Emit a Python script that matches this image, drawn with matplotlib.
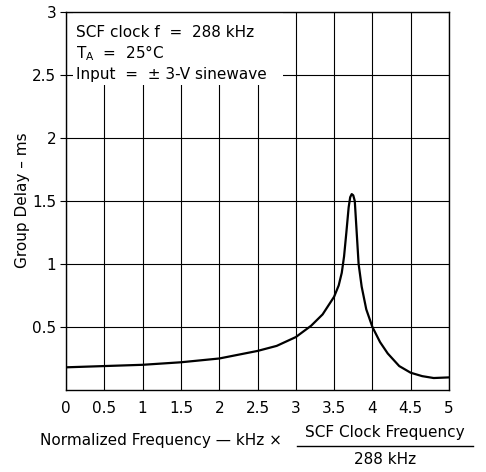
import matplotlib
matplotlib.use("Agg")
import matplotlib.pyplot as plt
from matplotlib.patches import Rectangle
from matplotlib.lines import Line2D

plt.rcParams['font.family'] = ['DejaVu Sans']

freq = [0, 0.5, 1.0, 1.5, 2.0, 2.5, 2.75, 3.0, 3.2, 3.35, 3.5, 3.56, 3.6, 3.63,
        3.66, 3.69, 3.71, 3.73, 3.75, 3.77, 3.79, 3.82, 3.86, 3.92, 4.0, 4.1,
        4.2, 4.35, 4.5, 4.65, 4.8, 5.0]
delay = [0.18, 0.19, 0.20, 0.22, 0.25, 0.31, 0.35, 0.42, 0.51, 0.60, 0.74, 0.83,
         0.93, 1.06, 1.25, 1.45, 1.53, 1.555, 1.545, 1.50, 1.30, 1.00, 0.82, 0.64,
         0.50, 0.38, 0.29, 0.19, 0.137, 0.11, 0.095, 0.10]

xticks = [0, 0.5, 1, 1.5, 2, 2.5, 3, 3.5, 4, 4.5, 5]
xtick_labels = ["0", "0.5", "1", "1.5", "2", "2.5", "3", "3.5", "4", "4.5", "5"]
yticks = [0.5, 1, 1.5, 2, 2.5, 3]
ytick_labels = ["0.5", "1", "1.5", "2", "2.5", "3"]

annot_lines = ["SCF clock f  =  288 kHz", r"T$_\mathregular{A}$  =  25°C", "Input  =  ± 3-V sinewave"]

fig = plt.figure(figsize=(4.86, 4.72), dpi=100)
ax = fig.add_axes([66/486, 1 - 390/472, (449-66)/486, (390-12)/472])
ax.set_xlim(0, 5)
ax.set_ylim(0, 3)

ax.set_xticks(xticks)
ax.set_xticklabels(xtick_labels, fontsize=11)
ax.set_yticks(yticks)
ax.set_yticklabels(ytick_labels, fontsize=11)
ax.tick_params(axis='x', length=0, pad=8)
ax.tick_params(axis='y', length=4, width=0.8, pad=3)
ax.grid(True, color='black', linewidth=0.8, zorder=1)
for s in ax.spines.values():
    s.set_linewidth(1.0)
    s.set_color('black')

# white area behind annotation
ax.add_patch(Rectangle((0.09, 2.42), 2.74, 0.6, facecolor='white', edgecolor='none', zorder=2))

ax.plot(freq, delay, color='black', linewidth=1.6, zorder=3)

ys = [2.84, 2.67, 2.5]
for t, y in zip(annot_lines, ys):
    ax.text(0.13, y, t, fontsize=11, va='center', ha='left', zorder=4,
            bbox=dict(facecolor='white', edgecolor='none', pad=1) if y == 2.5 else None)

fig.text(23/486, 1 - 200/472, "Group Delay \u2013 ms", rotation=90, fontsize=11,
         ha='center', va='center')

fig.text(40/486, 1 - 441/472, "Normalized Frequency \u2014 kHz \u00d7", fontsize=11,
         ha='left', va='center')
fig.text(385/486, 1 - 432/472, "SCF Clock Frequency", fontsize=11, ha='center', va='center')
fig.text(385/486, 1 - 460/472, "288 kHz", fontsize=11, ha='center', va='center')
fig.add_artist(Line2D([297/486, 473/486], [1 - 446/472, 1 - 446/472], color='black',
                      linewidth=1.0, transform=fig.transFigure))

fig.savefig("out.png", dpi=100)
